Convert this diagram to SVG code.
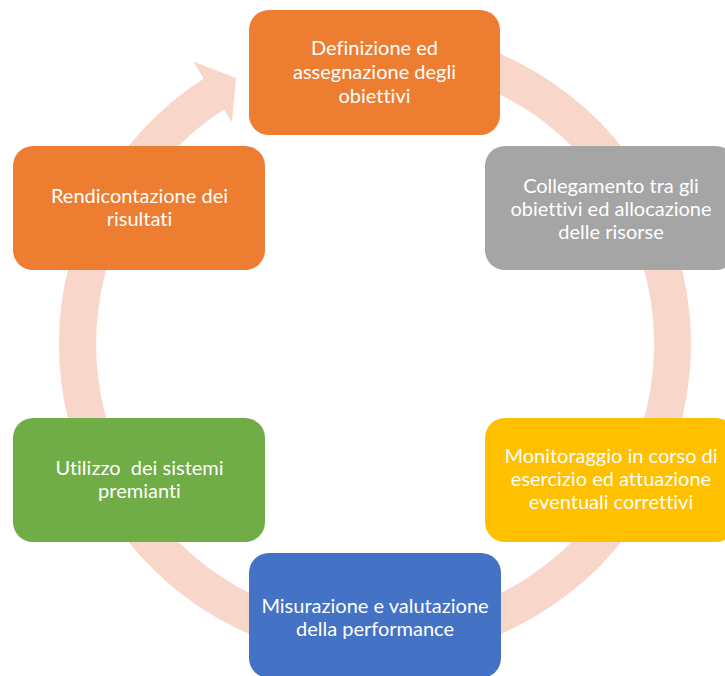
<svg xmlns="http://www.w3.org/2000/svg" width="725" height="676" viewBox="0 0 725 676">
<style>
.box{stroke:none}
.t{font-family:Lato,"Liberation Sans",sans-serif;font-size:20px;fill:#ffffff;text-anchor:middle;white-space:pre;font-variant-ligatures:none;font-feature-settings:"liga" 0,"clig" 0,"dlig" 0}
</style>
<rect width="725" height="676" fill="#ffffff"/>
<g id="connectors">
<path d="M293.2,38.8 A316,316 0 1 1 203.8,78.4 L193,61.6 L236,78.1 L232,122.1 L223.9,109.5 A279,279 0 1 0 302.8,74.5 Z" fill="#F8D6CA"/>
</g>
<g id="n1"><rect class="box" x="249" y="10" width="251" height="125" rx="20" fill="#ED7D31"/>
<text class="t" x="374.5" y="55">Definizione ed</text><text class="t" x="374.5" y="79">assegnazione degli</text><text class="t" x="374.5" y="103">obiettivi</text></g>
<g id="n2"><rect class="box" x="485" y="146" width="251" height="124" rx="20" fill="#A5A5A5"/>
<text class="t" x="611" y="193">Collegamento tra gli</text><text class="t" x="611" y="216">obiettivi ed allocazione</text><text class="t" x="611" y="239">delle risorse</text></g>
<g id="n3"><rect class="box" x="485" y="418" width="251" height="124" rx="20" fill="#FFC000"/>
<text class="t" x="611" y="463">Monitoraggio in corso di</text><text class="t" x="611" y="486">esercizio ed attuazione</text><text class="t" x="611" y="509">eventuali correttivi</text></g>
<g id="n4"><rect class="box" x="249" y="553" width="252" height="125" rx="20" fill="#4472C4"/>
<text class="t" x="375" y="613">Misurazione e valutazione</text><text class="t" x="375" y="636">della performance</text></g>
<g id="n5"><rect class="box" x="13" y="418" width="252" height="124" rx="20" fill="#70AD47"/>
<text class="t" x="139.5" y="475">Utilizzo  dei sistemi</text><text class="t" x="139.5" y="498">premianti</text></g>
<g id="n6"><rect class="box" x="13" y="146" width="252" height="124" rx="20" fill="#ED7D31"/>
<text class="t" x="139.5" y="203">Rendicontazione dei</text><text class="t" x="139.5" y="226">risultati</text></g>
</svg>
